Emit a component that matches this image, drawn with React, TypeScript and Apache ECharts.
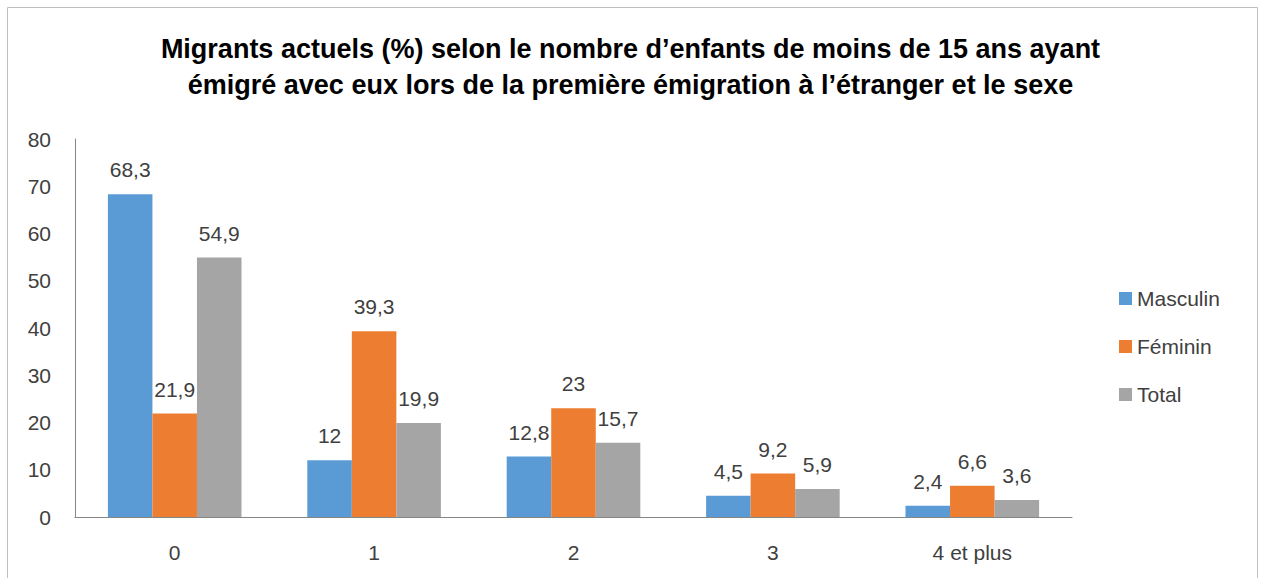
import React, { useEffect, useRef } from "react";
import * as echarts from "echarts";

const categories = ["0", "1", "2", "3", "4 et plus"];
const masculin = [68.3, 12, 12.8, 4.5, 2.4];
const feminin = [21.9, 39.3, 23, 9.2, 6.6];
const total = [54.9, 19.9, 15.7, 5.9, 3.6];
const yTicks = { min: 0, max: 80, interval: 10 };

const FONT = "'Liberation Sans', Arial, sans-serif";

export default function App() {
  const ref = useRef<HTMLDivElement>(null);
  useEffect(() => {
    if (!ref.current) return;
    const chart = echarts.init(ref.current, undefined, { renderer: "svg" });
    const label = {
      show: true,
      position: "top" as const,
      distance: 14,
      fontSize: 21,
      fontFamily: FONT,
      color: "#404040",
      formatter: (p: any) => String(p.value).replace(".", ","),
    };
    chart.setOption({
      animation: false,
      backgroundColor: "#fff",
      title: {
        text:
          "Migrants actuels (%) selon le nombre d\u2019enfants de moins de 15 ans ayant\n\u00e9migr\u00e9 avec eux lors de la premi\u00e8re \u00e9migration \u00e0 l\u2019\u00e9tranger et le sexe",
        left: "center",
        top: 26,
        textStyle: {
          fontFamily: FONT,
          fontWeight: "bold",
          fontSize: 27,
          lineHeight: 36,
          color: "#000",
        },
      },
      graphic: [
        {
          type: "rect",
          shape: { x: 7.5, y: 7.5, width: 1250, height: 580 },
          style: { fill: "none", stroke: "#bfbfbf", lineWidth: 1 },
          silent: true,
        },
      ],
      legend: {
        orient: "vertical",
        left: 1114,
        top: 283,
        itemWidth: 13,
        itemHeight: 13,
        itemGap: 27,
        icon: "rect",
        textStyle: { fontFamily: FONT, fontSize: 21, color: "#404040" },
        data: ["Masculin", "F\u00e9minin", "Total"],
      },
      grid: { left: 75, right: 189, top: 139, bottom: 61, containLabel: false },
      xAxis: {
        type: "category",
        data: categories,
        axisLine: { lineStyle: { color: "#868686" } },
        axisTick: { show: false },
        axisLabel: { fontFamily: FONT, fontSize: 21, color: "#404040", margin: 25 },
      },
      yAxis: {
        type: "value",
        min: yTicks.min,
        max: yTicks.max,
        interval: yTicks.interval,
        axisLine: { show: true, lineStyle: { color: "#868686" } },
        axisTick: { show: false },
        splitLine: { show: false },
        axisLabel: { fontFamily: FONT, fontSize: 21, color: "#404040", margin: 24 },
      },
      series: [
        { name: "Masculin", type: "bar", data: masculin, itemStyle: { color: "#5B9BD5" }, label, barGap: "0%", barCategoryGap: "33%" },
        { name: "F\u00e9minin", type: "bar", data: feminin, itemStyle: { color: "#ED7D31" }, label, barGap: "0%", barCategoryGap: "33%" },
        { name: "Total", type: "bar", data: total, itemStyle: { color: "#A5A5A5" }, label, barGap: "0%", barCategoryGap: "33%" },
      ],
    });
    return () => chart.dispose();
  }, []);
  return (
    <div
      ref={ref}
      style={{ position: "absolute", left: 0, top: 0, width: 1261, height: 578 }}
    />
  );
}
